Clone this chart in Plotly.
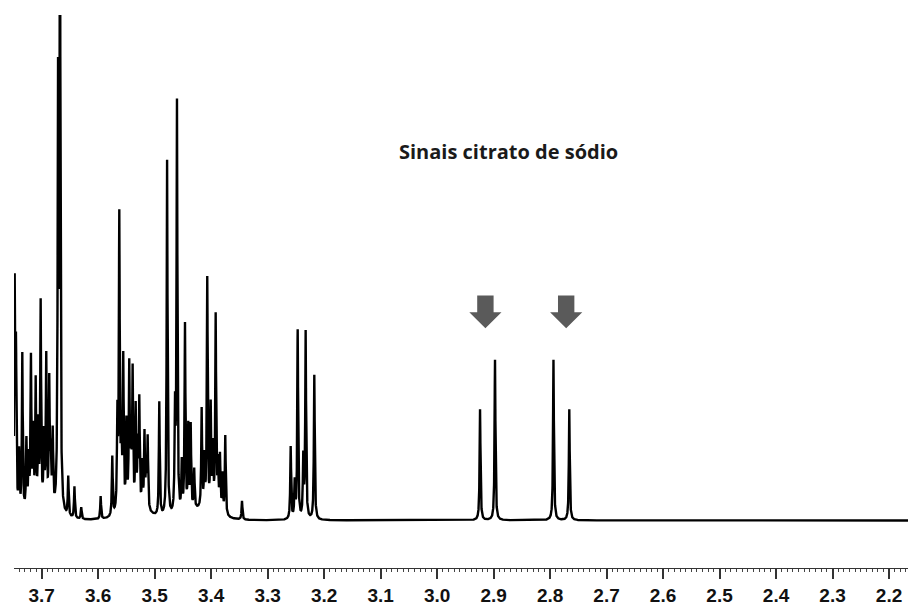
import numpy as np
import plotly.graph_objects as go

# ---- data (chemical shift in ppm, relative intensity) ----
peak_ppm = [3.7478, 3.7455, 3.7400, 3.7343, 3.7270, 3.7230, 3.7190, 3.7150, 3.7106,
            3.7060, 3.7018, 3.6960, 3.6919, 3.6866, 3.6840, 3.6805,
            3.6710, 3.6676, 3.6530, 3.6420, 3.6300, 3.5956, 3.5750, 3.5660, 3.5626,
            3.5590, 3.5556, 3.5500, 3.5450, 3.5420, 3.5390, 3.5336, 3.5300, 3.5272,
            3.5220, 3.5180, 3.5150, 3.5124, 3.4918, 3.4780, 3.4640, 3.4605,
            3.4520, 3.4463, 3.4405, 3.4362, 3.4300, 3.4168, 3.4120, 3.4069, 3.4008,
            3.3970, 3.3920, 3.3880, 3.3844, 3.3800, 3.3750,
            3.3454, 3.2592, 3.2520, 3.2468, 3.2369, 3.2327, 3.2174,
            2.9240, 2.8975, 2.7940, 2.7660]
peak_height = [225, 155, 60, 160, 70, 50, 150, 75, 125,
               80, 205, 70, 150, 125, 50, 75,
               420, 640, 40, 32, 12, 23, 60, 95, 295,
               75, 150, 85, 140, 70, 135, 100, 60, 108,
               45, 75, 40, 72, 115, 360, 100, 415,
               50, 190, 85, 85, 40, 100, 50, 232, 102,
               60, 195, 45, 55, 38, 80,
               19, 73, 36, 190, 60, 188, 146,
               112, 162, 162, 112]
# broad underlying envelope of the sugar region
hump_ppm = [3.715, 3.690, 3.545, 3.515, 3.425, 3.395]
hump_height = [7, 6, 7, 5, 8, 6]

tick_vals = [3.7, 3.6, 3.5, 3.4, 3.3, 3.2, 3.1, 3.0, 2.9, 2.8, 2.7, 2.6, 2.5, 2.4, 2.3, 2.2]
tick_text = ["3.7", "3.6", "3.5", "3.4", "3.3", "3.2", "3.1", "3.0", "2.9", "2.8",
             "2.7", "2.6", "2.5", "2.4", "2.3", "2.2"]
arrow_ppm = [2.9145, 2.7715]
label_text = "Sinais citrato de sódio"

# ---- spectrum trace (Lorentzian line shapes at the listed peaks) ----
x_left, x_right = 3.749, 2.1664
ppm = np.arange(x_right, x_left + 1e-4, 0.0001)[::-1]
gamma = 0.0009
spec = np.zeros_like(ppm)
for p, h in zip(peak_ppm, peak_height):
    spec += h * gamma**2 / (gamma**2 + (ppm - p) ** 2)
g2 = 0.02
for p, h in zip(hump_ppm, hump_height):
    spec += h * g2**2 / (g2**2 + (ppm - p) ** 2) * np.exp(-((ppm - p) / 0.05) ** 2)

fig = go.Figure()
fig.add_trace(go.Scatter(x=ppm, y=spec, mode="lines",
                         line=dict(color="black", width=2.4), hoverinfo="skip",
                         showlegend=False))

# arrows (shapes in data coordinates)
sw, hw = 0.0145, 0.0285
for a in arrow_ppm:
    path = (f"M {a - sw},227 L {a + sw},227 L {a + sw},210 L {a + hw},210 "
            f"L {a},194 L {a - hw},210 L {a - sw},210 Z")
    fig.add_shape(type="path", path=path, xref="x", yref="y",
                  fillcolor="#5a5a5a", line=dict(width=0))

fig.add_annotation(x=2.8745, y=372, xref="x", yref="y", text=label_text,
                   showarrow=False,
                   font=dict(family="Open Sans", size=20, color="#1a1a1a", weight="bold"))

fig.update_layout(
    width=910, height=608,
    margin=dict(l=14, r=2, t=15, b=35),
    paper_bgcolor="white", plot_bgcolor="white",
    xaxis=dict(range=[x_left, x_right], tickvals=tick_vals, ticktext=tick_text,
               ticks="outside", ticklen=10, tickwidth=1.5, tickcolor="#333",
               showline=True, linecolor="#333", linewidth=1,
               showgrid=False, zeroline=False,
               minor=dict(dtick=0.01, tick0=0, ticks="outside", ticklen=3,
                          tickwidth=1, tickcolor="#444", showgrid=False),
               tickfont=dict(family="Liberation Sans", size=19, color="#111",
                             weight="bold")),
    yaxis=dict(range=[-48, 510], visible=False, showgrid=False, zeroline=False),
)

fig.write_html("out.html")
